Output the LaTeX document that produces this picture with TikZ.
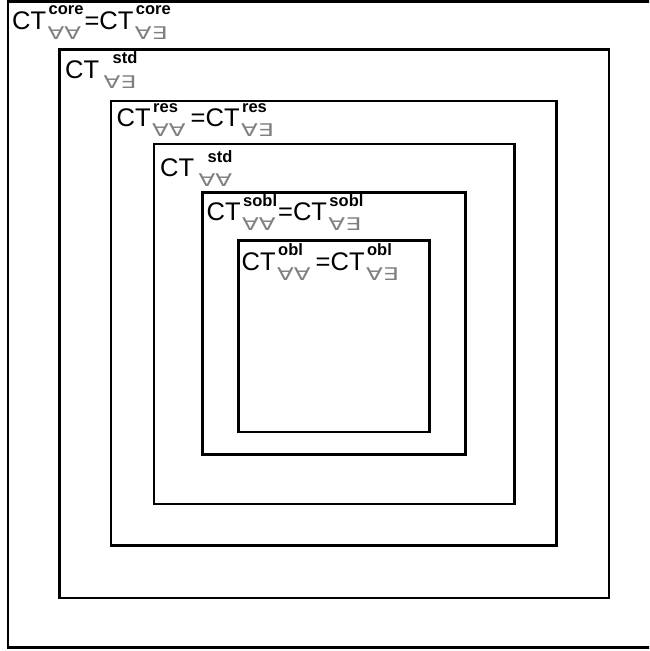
\documentclass[tikz,border=0pt]{standalone}
\usepackage{fontspec}
\usepackage{graphicx}
\setmainfont{Liberation Sans}
\newfontfamily\symf{DejaVu Sans}
\newcommand\ctsup[1]{{\fontsize{16.5}{16.5}\selectfont\bfseries #1}}
\newcommand\ctsub[1]{{\symf\fontsize{17.5}{17.5}\selectfont\color{black!50}\scalebox{1.4}[1]{#1}}}
% #1: shift of the superscript, #2: superscript, #3: subscript
\newcommand\supsubx[3][1pt]{\hspace{1.5pt}\ooalign{\hspace{#1}\raisebox{14.5pt}{\ctsup{#2}}\cr\raisebox{-10pt}{\ctsub{#3}}\cr}}
\tikzset{
  box/.style={draw=black, line width=2.6pt},
  lbl/.style={font=\fontsize{25.5}{25.5}\selectfont, inner sep=0pt, anchor=base west}
}
\begin{document}
\begin{tikzpicture}[x=1pt,y=-1pt]
\useasboundingbox (0,0) rectangle (649,651);
\fill[white] (0,0) rectangle (649,651);
\clip (0,0) rectangle (649,651);
% nested sets
\draw[box] (8,1.3) rectangle (680,647.5);
\draw[box] (59.5,49.5) rectangle (609,598);
\draw[box] (111,101) rectangle (556.5,545.5);
\draw[box] (154,144) rectangle (514.5,504);
\draw[box] (202.5,192.5) rectangle (465.5,454.5);
\draw[box] (238.5,240.5) rectangle (429.5,432);
% labels
\node[lbl] (lcore) at (12,29.3) {CT\supsubx{core}{∀∀}\hspace{1pt}=CT\supsubx{core}{∀∃}};
\node[lbl] (lstdE) at (65,78) {CT\hspace{3pt}\supsubx[9pt]{std}{∀∃}};
\node[lbl] (lres) at (116.5,126.7) {CT\supsubx{res}{∀∀}\hspace{5pt}=CT\supsubx{res}{∀∃}};
\node[lbl] (lstdA) at (160,176.7) {CT\hspace{3pt}\supsubx[9pt]{std}{∀∀}};
\node[lbl] (lsobl) at (206.5,220.7) {CT\supsubx{sobl}{∀∀}\hspace{1pt}=CT\supsubx{sobl}{∀∃}};
\node[lbl] (lobl) at (241.5,270) {CT\supsubx{obl}{∀∀}\hspace{5pt}=CT\supsubx{obl}{∀∃}};
\end{tikzpicture}
\end{document}
